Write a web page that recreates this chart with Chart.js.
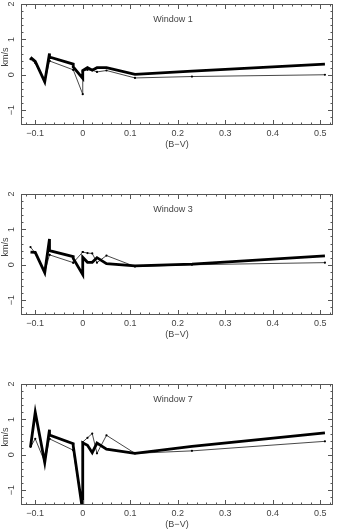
<!DOCTYPE html>
<html><head><meta charset="utf-8">
<script src="https://cdn.jsdelivr.net/npm/chart.js@4"></script>
<style>
body{margin:0;background:#fff;width:337px;height:529px;overflow:hidden;position:relative}
canvas{position:absolute;left:0}
</style></head><body>
<canvas id="c1" width="337" height="150" style="top:0"></canvas>
<canvas id="c2" width="337" height="150" style="top:190px"></canvas>
<canvas id="c3" width="337" height="150" style="top:380px"></canvas>
<script>
// B-V colour of each star (shared by all panels)
const bv=[-0.11,-0.10,-0.08,-0.07,-0.07,-0.02,-0.02,0,0,0.01,0.02,0.03,0.05,0.11,0.23,0.51];
const titles=["Window 1","Window 3","Window 7"];
// thick line (km/s)
const thick1=[0.49,0.38,-0.20,0.60,0.50,0.30,0.22,-0.10,0.12,0.20,0.13,0.20,0.20,0.01,0.10,0.30];
const thick3=[0.36,0.35,-0.22,0.73,0.40,0.23,0.18,-0.28,0.21,0.07,0.07,0.20,0.03,-0.03,0.02,0.25];
const thick7=[0.22,1.20,-0.22,0.71,0.56,0.31,0.25,-1.60,0.34,0.27,0.06,0.33,0.16,0.04,0.24,0.62];
// thin line with dots (km/s)
const thin1=[0.44,0.33,-0.20,0.39,0.39,0.14,0.14,-0.55,0.10,0.14,0.13,0.08,0.12,-0.09,-0.05,0.00];
const thin3=[0.50,0.33,-0.20,0.28,0.28,0.06,0.06,0.36,0.36,0.33,0.32,0.06,0.26,-0.05,0.00,0.06];
const thin7=[0.22,0.45,-0.20,0.45,0.45,0.13,0.13,-1.60,0.36,0.48,0.60,0.04,0.55,0.04,0.11,0.38];
const xTicks=[-0.1,0,0.1,0.2,0.3,0.4,0.5];
const yTicks=[-1,0,1,2];

const font={family:"'Liberation Sans', Arial, sans-serif",size:9};
const ink="#444";

const pts=vals=>vals.map((v,i)=>({x:bv[i],y:v}));
const fmt=v=>v<0?"\u2212"+Math.abs(v):String(v);

const frame={id:"frame",afterDatasetsDraw(chart,args,opts){
 const {ctx,chartArea:a,scales:{x,y}}=chart;
 ctx.save();
 ctx.strokeStyle="#555";ctx.lineWidth=1;
 ctx.strokeRect(a.left+.5,a.top+.5,a.right-a.left-1,a.bottom-a.top-1);
 ctx.beginPath();
 for(let k=-6;k<=26;k++){
  let px=Math.round(x.getPixelForValue(k*0.02))+.5;
  if(px<a.left||px>a.right) continue;
  let l=k%5==0?5:2.5;
  ctx.moveTo(px,a.bottom);ctx.lineTo(px,a.bottom-l);
  ctx.moveTo(px,a.top);ctx.lineTo(px,a.top+l);
 }
 for(let k=-7;k<=10;k++){
  let py=Math.round(y.getPixelForValue(k*0.2))+.5;
  if(py<a.top||py>a.bottom) continue;
  let l=k%5==0?5:2.5;
  ctx.moveTo(a.left,py);ctx.lineTo(a.left+l,py);
  ctx.moveTo(a.right,py);ctx.lineTo(a.right-l,py);
 }
 ctx.stroke();
 ctx.fillStyle=ink;ctx.font="9px "+font.family;
 ctx.textAlign="center";ctx.textBaseline="middle";
 ctx.fillText(opts.text,x.getPixelForValue(0.19),y.getPixelForValue(1.56));
 ctx.restore();
}};

function panel(id,title,thick,thin){
 new Chart(document.getElementById(id),{
  type:"line",
  data:{datasets:[
   {data:pts(thick),borderColor:"#000",borderWidth:2.8,pointRadius:0,tension:0,clip:0,order:0},
   {data:pts(thin),borderColor:"#333",borderWidth:0.9,pointRadius:1.1,pointBackgroundColor:"#000",pointBorderWidth:0,tension:0,clip:0,order:1}
  ]},
  options:{
   responsive:false,animation:false,devicePixelRatio:1,
   layout:{padding:{top:2,right:3,left:0,bottom:0}},
   plugins:{legend:{display:false},tooltip:{enabled:false},frame:{text:title}},
   scales:{
    x:{type:"linear",min:-0.13,max:0.527,
     grid:{display:false,drawTicks:false},border:{display:false},
     afterBuildTicks:s=>{s.ticks=xTicks.map(v=>({value:v}));},
     afterFit:s=>{s.height=25;s.paddingLeft=0;s.paddingRight=0;},
     ticks:{color:ink,font,padding:3,maxRotation:0,autoSkip:false,callback:v=>fmt(v)},
     title:{display:true,text:"(B\u2212V)",color:ink,font,padding:0}},
    y:{type:"linear",min:-1.42,max:2.0,
     grid:{display:false,drawTicks:false},border:{display:false},
     afterBuildTicks:s=>{s.ticks=yTicks.map(v=>({value:v}));},
     afterFit:s=>{s.width=21;s.paddingTop=0;s.paddingBottom=0;},
     ticks:{color:ink,font,padding:4,minRotation:90,maxRotation:90,crossAlign:"center",autoSkip:false,callback:v=>fmt(v)},
     title:{display:true,text:"      km/s",color:ink,font,padding:0}}
   }
  },
  plugins:[frame]
 });
}
panel("c1",titles[0],thick1,thin1);
panel("c2",titles[1],thick3,thin3);
panel("c3",titles[2],thick7,thin7);
</script>
</body></html>
